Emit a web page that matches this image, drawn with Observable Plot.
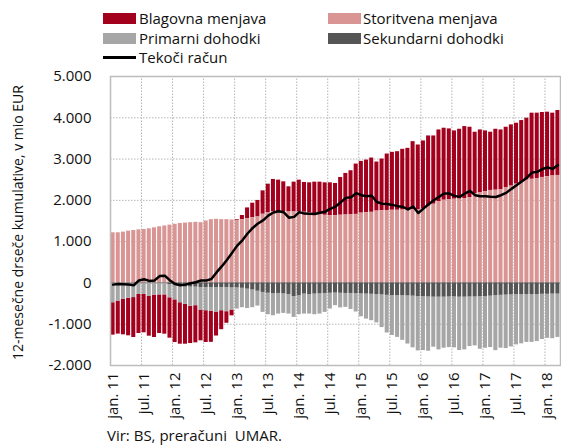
<!DOCTYPE html>
<html>
<head>
<meta charset="utf-8">
<script src="https://cdn.jsdelivr.net/npm/d3@7"></script>
<script src="https://cdn.jsdelivr.net/npm/@observablehq/plot@0.6"></script>
<style>
  html, body { margin: 0; padding: 0; background: #fff; }
  #wrap { position: relative; width: 561px; height: 446px; font-family: "Open Sans", sans-serif; color: #111; overflow: hidden; }
  .sw { position: absolute; width: 33px; height: 11px; }
  .lt { position: absolute; font-size: 15px; line-height: 18px; white-space: nowrap; }
  #chart { position: absolute; left: 0; top: 64px; }
  #cap { position: absolute; left: 107px; top: 427px; font-size: 15px; line-height: 16px; white-space: pre; }
</style>
</head>
<body>
<div id="wrap">
  <div class="sw" style="left:103px;top:13px;background:#A3001E"></div>
  <div class="lt" style="left:139px;top:9px">Blagovna menjava</div>
  <div class="sw" style="left:328px;top:13px;background:#D99594"></div>
  <div class="lt" style="left:363px;top:9px">Storitvena menjava</div>
  <div class="sw" style="left:103px;top:33px;background:#A6A6A6"></div>
  <div class="lt" style="left:139px;top:29px">Primarni dohodki</div>
  <div class="sw" style="left:328px;top:33px;background:#555555"></div>
  <div class="lt" style="left:363px;top:29px">Sekundarni dohodki</div>
  <div class="sw" style="left:103px;top:56px;height:2.5px;background:#000"></div>
  <div class="lt" style="left:139px;top:48px">Tekoči račun</div>
  <div id="chart"></div>
  <div id="cap">Vir: BS, preračuni  UMAR.</div>
</div>
<script>
// Monthly categories Jan 2011 – Mar 2018 (87 months)
const months = d3.range(87).map(i => `${2011 + Math.floor(i / 12)}-${String(i % 12 + 1).padStart(2, "0")}`);
const tickLabels = ["jan. 11","jul. 11","jan. 12","jul. 12","jan. 13","jul. 13","jan. 14","jul. 14","jan. 15","jul. 15","jan. 16","jul. 16","jan. 17","jul. 17","jan. 18"];
const seriesNames = ["Blagovna menjava", "Storitvena menjava", "Primarni dohodki", "Sekundarni dohodki"];
const lineName = "Tekoči račun";

// 12-month rolling sums, EUR million
const goods = [
  -785,-800,-857,-911,-967,-945,-928,-970,-1027,-935,-951,-978,-1034,-1004,-964,
  -900,-900,-745,-770,-750,-580,-460,-280,-140,20,100,260,350,400,
  567,697,787,763,730,609,722,771,722,730,762,778,787,795,779,
  915,1007,1067,1219,1254,1276,1315,1188,1251,1367,1403,1419,1471,1490,1647,
  1571,1649,1703,1654,1743,1744,1712,1654,1692,1743,1703,1485,1525,1476,
  1410,1476,1446,1460,1484,1476,1508,1500,1602,1582,1573,1565,1522,1574
];
const services = [
  1215,1215,1230,1255,1270,1285,1295,1310,1335,1360,1380,1400,1420,1440,1450,
  1460,1468,1460,1500,1533,1541,1533,1533,1525,1517,1533,1557,1581,1598,
  1663,1695,1719,1727,1719,1719,1719,1719,1711,1695,1679,1663,1638,1630,1630,
  1640,1645,1650,1660,1690,1700,1710,1740,1750,1755,1760,1760,1765,1770,1775,
  1770,1790,1857,1906,1963,2003,2019,2028,2030,2044,2068,2165,2181,2206,
  2240,2246,2260,2311,2344,2392,2425,2490,2510,2530,2555,2571,2590,2603
];
const primary = [
  -470,-430,-390,-360,-345,-270,-270,-310,-285,-280,-280,-320,-340,-390,-420,
  -468,-451,-547,-563,-579,-596,-563,-587,-537,-513,-470,-470,-430,-360,
  -484,-520,-535,-499,-473,-474,-505,-460,-484,-474,-500,-489,-459,-383,-306,
  -355,-337,-387,-444,-554,-606,-640,-688,-791,-912,-968,-1009,-1081,-1165,-1252,
  -1316,-1304,-1314,-1212,-1277,-1237,-1226,-1233,-1293,-1277,-1201,-1185,-1271,-1252,
  -1245,-1330,-1281,-1295,-1260,-1215,-1190,-1160,-1160,-1140,-1095,-1067,-1080,-1050
];
const secondary = [
  -10,-10,-10,-10,-10,-10,-10,-10,-10,-10,-10,-40,-70,-90,-100,
  -100,-100,-110,-110,-110,-110,-110,-110,-120,-120,-130,-150,-170,-200,
  -230,-250,-260,-255,-265,-280,-330,-310,-270,-280,-270,-265,-255,-250,-245,
  -250,-255,-255,-260,-265,-270,-275,-280,-290,-300,-305,-310,-310,-315,-320,
  -330,-335,-340,-345,-345,-345,-340,-340,-345,-345,-340,-340,-335,-330,
  -320,-310,-300,-295,-290,-285,-285,-280,-280,-280,-275,-275,-270,-270
];
const currentAccount = [
  -41,-24,-30,-40,-57,60,89,49,60,165,175,60,-25,-57,-41,
  -8,17,58,57,94,255,400,556,728,904,1033,1197,1331,1438,
  1516,1630,1705,1736,1711,1581,1600,1715,1679,1675,1668,1700,1725,1795,1850,
  1950,2060,2075,2175,2125,2100,2110,1960,1920,1910,1890,1860,1845,1780,1850,
  1695,1800,1906,2003,2084,2165,2165,2109,2084,2165,2230,2125,2100,2100,
  2085,2082,2125,2181,2278,2368,2458,2550,2672,2692,2758,2794,2762,2857
];
const yTicks = [-2000, -1000, 0, 1000, 2000, 3000, 4000, 5000];

const colors = ["#A3001E", "#D99594", "#A6A6A6", "#555555"];
const seriesArrays = [goods, services, primary, secondary];
const long = [];
seriesNames.forEach((s, k) => months.forEach((m, i) => long.push({month: m, series: s, value: seriesArrays[k][i]})));
const lineData = months.map((m, i) => ({month: m, value: currentAccount[i]}));
const tickMonths = months.filter((m, i) => i % 6 === 0);
const labelOf = new Map(tickMonths.map((m, i) => [m, tickLabels[i]]));
const fmt = d => d3.format(",")(Math.abs(d)).replace(/,/g, ".");
const yFmt = d => (d < 0 ? "-" : "") + fmt(d);

const W = 561, ML = 110, MR = 1;
const step = (W - ML - MR) / months.length;

const chart = Plot.plot({
  width: W,
  height: 356,
  marginTop: 12,
  marginBottom: 55,
  marginLeft: ML,
  marginRight: MR,
  style: {fontFamily: "Open Sans, sans-serif", fontSize: "15px", color: "#111", background: "white"},
  x: {type: "band", domain: months, round: false, paddingInner: 0.22, paddingOuter: 0.11},
  y: {domain: [-2000, 5000]},
  color: {domain: seriesNames, range: colors},
  marks: [
    Plot.gridY({ticks: yTicks.filter(t => t !== 0 && t !== 5000 && t !== -2000), stroke: "#b5b5b5", strokeOpacity: 1, strokeDasharray: "1.5,1.5"}),
    Plot.ruleX(tickMonths.slice(1), {x: d => d, dx: -step / 2, y1: -2000, y2: 5000, stroke: "#b5b5b5", strokeDasharray: "1.5,1.5"}),
    Plot.ruleY([0], {stroke: "#a0a0a0", strokeWidth: 1.5}),
    Plot.barY(long, {
      x: "month", y: "value", fill: "series",
      order: ["Storitvena menjava", "Sekundarni dohodki", "Primarni dohodki", "Blagovna menjava"]
    }),
    Plot.lineY(lineData, {x: "month", y: "value", stroke: "#000", strokeWidth: 2.5, strokeLinejoin: "round"}),
    Plot.frame({stroke: "#bdbdbd", strokeWidth: 1.5}),
    Plot.axisY({ticks: yTicks, tickFormat: yFmt, tickSize: 0, tickPadding: 19, label: null, fontSize: 15}),
    Plot.axisX({ticks: tickMonths, tickFormat: d => labelOf.get(d), tickRotate: -90, tickSize: 0, tickPadding: 7, label: null, fontSize: 15})
  ]
});
document.getElementById("chart").appendChild(chart);

// y-axis title
d3.select(chart).append("text")
  .attr("transform", `translate(19, ${(12 + 301) / 2 + 2}) rotate(-90)`)
  .attr("text-anchor", "middle")
  .attr("dominant-baseline", "middle")
  .attr("fill", "#111")
  .style("font-size", "14px")
  .text("12-mesečne drseče kumulative, v mio EUR");
</script>
</body>
</html>
